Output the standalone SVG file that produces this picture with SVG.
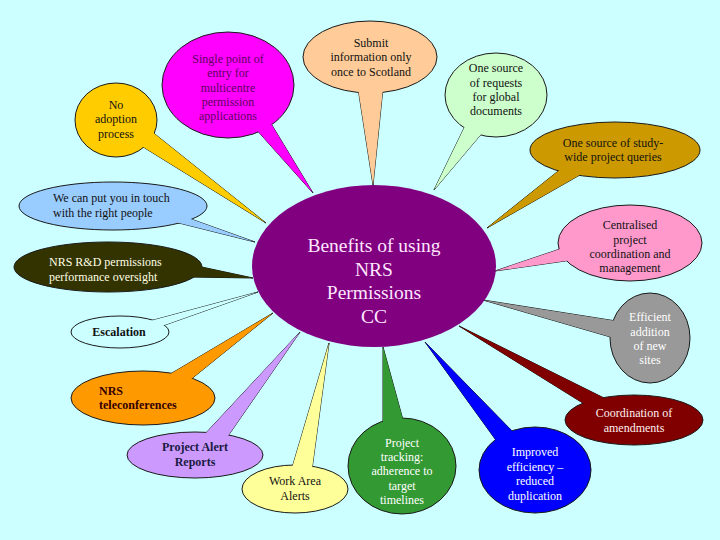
<svg xmlns="http://www.w3.org/2000/svg" xmlns:xlink="http://www.w3.org/1999/xlink" width="720" height="540" viewBox="0 0 720 540">
<style>
.c{stroke:#1a1a1a;stroke-width:1}
.t{font-family:"Liberation Serif","Times New Roman",serif;font-size:12px;text-anchor:middle;stroke:none}
.l{text-anchor:start}
.b{font-weight:bold}
.dk{fill:#111}
.wh{fill:#fff}
</style>
<rect width="720" height="540" fill="#CCFFFF"/>
<g id="n-noadoption" class="c" fill="#FFCC00">
<polygon id="tl1" points="140,145 151,131 266,223"/>
<ellipse cx="116" cy="120" rx="41" ry="37"/>
<use xlink:href="#tl1" stroke="none"/>
<text class="t dk"><tspan x="116" y="109">No</tspan><tspan x="116" y="123">adoption</tspan><tspan x="116" y="138">process</tspan></text>
</g>
<g id="n-single" class="c" fill="#FF00FF">
<polygon id="tl2" points="255,128 270,122 313,193"/>
<ellipse cx="228" cy="85" rx="66" ry="53"/>
<use xlink:href="#tl2" stroke="none"/>
<text class="t" fill="#600060"><tspan x="228" y="63">Single point of</tspan><tspan x="228" y="77">entry for</tspan><tspan x="228" y="92">multicentre</tspan><tspan x="228" y="106">permission</tspan><tspan x="228" y="120">applications</tspan></text>
</g>
<g id="n-submit" class="c" fill="#FFCC99">
<polygon id="tl3" points="358,88 383,88 373,185"/>
<ellipse cx="370" cy="57" rx="67" ry="36"/>
<use xlink:href="#tl3" stroke="none"/>
<text class="t dk"><tspan x="371" y="47">Submit</tspan><tspan x="371" y="61">information only</tspan><tspan x="371" y="76">once to Scotland</tspan></text>
</g>
<g id="n-global" class="c" fill="#CCFFCC">
<polygon id="tl4" points="466,124 483,132 434,190"/>
<ellipse cx="496" cy="95" rx="51" ry="42"/>
<use xlink:href="#tl4" stroke="none"/>
<text class="t dk"><tspan x="496" y="72">One source</tspan><tspan x="496" y="87">of requests</tspan><tspan x="496" y="101">for global</tspan><tspan x="496" y="115">documents</tspan></text>
</g>
<g id="n-studywide" class="c" fill="#CC9900">
<polygon id="tl5" points="562,168 585,172 487,228"/>
<ellipse cx="615" cy="150" rx="85" ry="28"/>
<use xlink:href="#tl5" stroke="none"/>
<text class="t dk"><tspan x="613" y="147">One source of study-</tspan><tspan x="613" y="161">wide project queries</tspan></text>
</g>
<g id="n-centralised" class="c" fill="#FF99CC">
<polygon id="tl6" points="563,248 572,260 495,271"/>
<ellipse cx="630" cy="243" rx="72" ry="38"/>
<use xlink:href="#tl6" stroke="none"/>
<text class="t dk"><tspan x="630" y="229">Centralised</tspan><tspan x="630" y="244">project</tspan><tspan x="630" y="258">coordination and</tspan><tspan x="630" y="272">management</tspan></text>
</g>
<g id="n-efficient" class="c" fill="#999999">
<polygon id="tl7" points="616,321 614,338 483,300"/>
<ellipse cx="650" cy="338" rx="40" ry="45"/>
<use xlink:href="#tl7" stroke="none"/>
<text class="t wh"><tspan x="650" y="321">Efficient</tspan><tspan x="650" y="336">addition</tspan><tspan x="650" y="350">of new</tspan><tspan x="650" y="364">sites</tspan></text>
</g>
<g id="n-amendments" class="c" fill="#800000">
<polygon id="tl8" points="586,405 604,398 459,326"/>
<ellipse cx="634" cy="420" rx="69" ry="25"/>
<use xlink:href="#tl8" stroke="none"/>
<text class="t" fill="#FFF0F0"><tspan x="634" y="417">Coordination of</tspan><tspan x="634" y="432">amendments</tspan></text>
</g>
<g id="n-improved" class="c" fill="#0000FF">
<polygon id="tl9" points="498,443 515,434 425,342"/>
<ellipse cx="535" cy="470" rx="56" ry="43"/>
<use xlink:href="#tl9" stroke="none"/>
<text class="t wh"><tspan x="535" y="456">Improved</tspan><tspan x="535" y="471">efficiency –</tspan><tspan x="535" y="485">reduced</tspan><tspan x="535" y="500">duplication</tspan></text>
</g>
<g id="n-tracking" class="c" fill="#339933">
<polygon id="tl10" points="383,423 403,420 383,347"/>
<ellipse cx="402" cy="466" rx="54" ry="48"/>
<use xlink:href="#tl10" stroke="none"/>
<text class="t wh"><tspan x="402" y="447">Project</tspan><tspan x="402" y="461">tracking:</tspan><tspan x="402" y="475">adherence to</tspan><tspan x="402" y="490">target</tspan><tspan x="402" y="504">timelines</tspan></text>
</g>
<g id="n-workarea" class="c" fill="#FFFF99">
<polygon id="tl11" points="292,468 312,469 329,343"/>
<ellipse cx="295" cy="489" rx="53" ry="24"/>
<use xlink:href="#tl11" stroke="none"/>
<text class="t dk"><tspan x="295" y="485">Work Area</tspan><tspan x="295" y="500">Alerts</tspan></text>
</g>
<g id="n-alertreports" class="c" fill="#CC99FF">
<polygon id="tl12" points="204,435 228,436 300,332"/>
<ellipse cx="195" cy="455" rx="68" ry="23"/>
<use xlink:href="#tl12" stroke="none"/>
<text class="t b" fill="#1a1a40"><tspan x="195" y="451">Project Alert</tspan><tspan x="195" y="466">Reports</tspan></text>
</g>
<g id="n-teleconf" class="c" fill="#FF9900">
<polygon id="tl13" points="167,376 190,380 273,313"/>
<ellipse cx="143" cy="398" rx="72" ry="27"/>
<use xlink:href="#tl13" stroke="none"/>
<text class="t l b" fill="#330000"><tspan x="99" y="395">NRS</tspan><tspan x="99" y="409">teleconferences</tspan></text>
</g>
<g id="n-escalation" class="c" fill="#CCFFFF">
<polygon id="tl14" points="150,321 162,326 258,292"/>
<ellipse cx="120" cy="332" rx="49" ry="16"/>
<use xlink:href="#tl14" stroke="none"/>
<text class="t b dk" x="119" y="336">Escalation</text>
</g>
<g id="n-oversight" class="c" fill="#333300">
<polygon id="tl15" points="197,266 190,277 253,278"/>
<ellipse cx="108" cy="267" rx="94" ry="25"/>
<use xlink:href="#tl15" stroke="none"/>
<text class="t l" fill="#FFFFE8"><tspan x="49" y="266">NRS R&amp;D permissions</tspan><tspan x="49" y="281">performance oversight</tspan></text>
</g>
<g id="n-touch" class="c" fill="#99CCFF">
<polygon id="tl16" points="188,218 175,222 255,242"/>
<ellipse cx="113" cy="206" rx="94" ry="24"/>
<use xlink:href="#tl16" stroke="none"/>
<text class="t l dk"><tspan x="53" y="202">We can put you in touch</tspan><tspan x="53" y="217">with the right people</tspan></text>
</g>
<g id="n-center">
<ellipse cx="374" cy="266" rx="122" ry="81" fill="#800080"/>
<text class="t" style="font-size:19.5px" fill="#FFE6FF"><tspan x="374" y="252">Benefits of using</tspan><tspan x="374" y="276">NRS</tspan><tspan x="374" y="299">Permissions</tspan><tspan x="374" y="323">CC</tspan></text>
</g>
</svg>
